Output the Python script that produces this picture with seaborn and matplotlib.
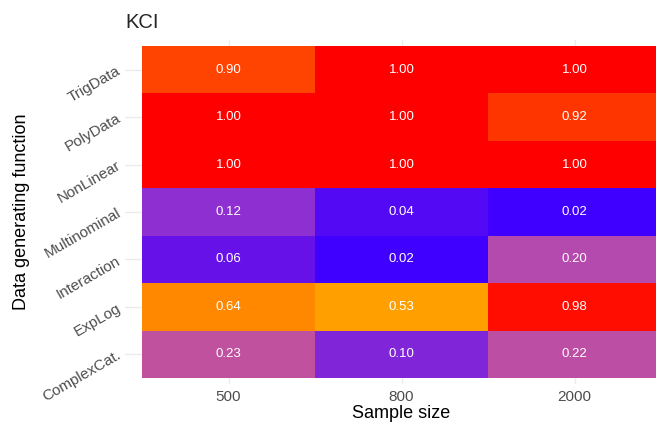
import numpy as np
import pandas as pd
import seaborn as sns
import matplotlib
matplotlib.use("Agg")
import matplotlib.pyplot as plt
from matplotlib.colors import LinearSegmentedColormap

sample_sizes = ["500", "800", "2000"]
functions = ["TrigData", "PolyData", "NonLinear", "Multinominal",
             "Interaction", "ExpLog", "ComplexCat."]
kci_500 = [0.90, 1.00, 1.00, 0.12, 0.06, 0.64, 0.23]
kci_800 = [1.00, 1.00, 1.00, 0.04, 0.02, 0.53, 0.10]
kci_2000 = [1.00, 0.92, 1.00, 0.02, 0.20, 0.98, 0.22]

df = pd.DataFrame({"500": kci_500, "800": kci_800, "2000": kci_2000},
                  index=functions)[sample_sizes]

cmap = LinearSegmentedColormap.from_list("kci", [
    (0.00, "#3300FF"), (0.02, "#3F00FF"), (0.06, "#6812E8"),
    (0.12, "#9030D0"), (0.20, "#B44AAE"), (0.23, "#C0529E"),
    (0.53, "#FFA000"), (0.64, "#FF8800"), (0.90, "#FF4400"),
    (1.00, "#FF0000")])

sns.set_style("white")
plt.rcParams["font.family"] = ["Liberation Sans", "DejaVu Sans"]

fig = plt.figure(figsize=(6.56, 4.24), dpi=100)
W, H = 656, 424
ax = fig.add_axes([125 / W, 1 - 384 / H, (656 - 125) / W, (384 - 40) / H])
ax.set_axisbelow(True)

sns.heatmap(df, ax=ax, cmap=cmap, vmin=0, vmax=1, cbar=False,
            annot=True, fmt=".2f",
            annot_kws={"color": "white", "fontsize": 9.5})

cw = 173.0
rh = (378 - 46) / 7
ax.set_xlim(-17 / cw, (656 - 142) / cw)
ax.set_ylim(7 + 6 / rh, -6 / rh)

ax.grid(True, color="#EBEBEB", linewidth=1)
for s in ax.spines.values():
    s.set_visible(False)
ax.tick_params(length=0, colors="#4D4D4D", labelsize=11, pad=4)
ax.set_xticks(np.arange(3) + 0.5)
ax.set_xticklabels(sample_sizes)
ax.set_yticks(np.arange(7) + 0.5)
ax.set_yticklabels(functions, rotation=30, ha="right", va="center",
                   rotation_mode="anchor")

ax.set_xlabel("Sample size", fontsize=13, color="black")
ax.xaxis.set_label_coords((401 - 125) / (656 - 125), -0.06)
ax.set_ylabel("Data generating function", fontsize=13, color="black")
ax.yaxis.set_label_coords(-0.178, 0.5)
fig.text(125 / W, 1 - 22 / H, "KCI", fontsize=14.5, ha="left", va="center")

fig.savefig("out.png", dpi=100)
